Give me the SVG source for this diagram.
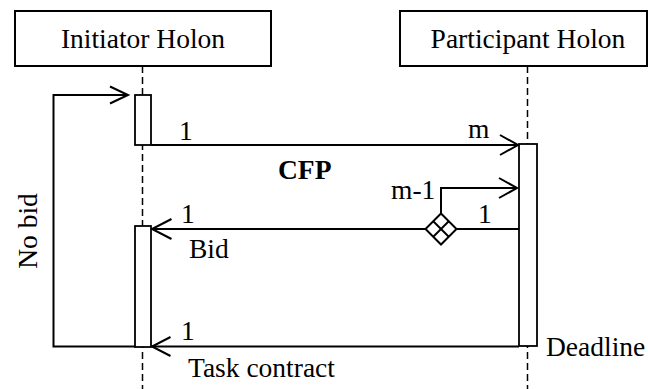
<svg xmlns="http://www.w3.org/2000/svg" width="648" height="389" viewBox="0 0 648 389">
<rect width="648" height="389" fill="#fff"/>
<g id="lifelines" stroke="#000" stroke-width="1.5" stroke-dasharray="7 4" fill="none">
  <line x1="142.5" y1="66" x2="142.5" y2="389"/>
  <line x1="527.5" y1="66" x2="527.5" y2="389"/>
</g>
<g id="initiator">
  <rect x="15" y="11" width="256" height="55" fill="#fff" stroke="#000" stroke-width="2"/>
  <text x="143" y="48" text-anchor="middle" font-family="Liberation Serif" font-size="27.5">Initiator Holon</text>
</g>
<g id="participant">
  <rect x="400" y="11" width="247" height="55" fill="#fff" stroke="#000" stroke-width="2"/>
  <text x="528" y="48" text-anchor="middle" font-family="Liberation Serif" font-size="27.5">Participant Holon</text>
</g>
<g id="connectors" stroke="#000" stroke-width="2" fill="none">
  <polyline points="135,346.5 53.5,346.5 53.5,95 127,95"/>
  <polyline points="110,86.5 128,95 110,103.5"/>
  <line x1="151" y1="145" x2="518" y2="145"/>
  <polyline points="500,135 518,145 500,155"/>
  <polyline points="441,213.5 441,188 517,188"/>
  <polyline points="499,178 517,188 499,198"/>
  <line x1="456" y1="229" x2="519" y2="229"/>
  <line x1="425" y1="229" x2="152" y2="229"/>
  <polyline points="171.5,219 152,229 171.5,239"/>
  <line x1="519" y1="346.5" x2="152" y2="346.5"/>
  <polyline points="170.5,337 152,346.5 170.5,356"/>
</g>
<g id="activations" fill="#fff" stroke="#000" stroke-width="1.8">
  <rect x="135" y="95" width="16" height="50"/>
  <rect x="135" y="226" width="16" height="121"/>
  <rect x="519" y="144" width="18" height="202"/>
</g>
<g id="decision" stroke="#000" stroke-width="2" fill="#fff">
  <polygon points="441,213.5 456.5,229 441,244.5 425.5,229"/>
  <line x1="433.25" y1="221.25" x2="448.75" y2="236.75"/>
  <line x1="448.75" y1="221.25" x2="433.25" y2="236.75"/>
</g>
<text x="179" y="140" font-family="Liberation Serif" font-size="27.5">1</text>
<text x="468" y="138" font-family="Liberation Serif" font-size="27.5">m</text>
<text x="278" y="179" font-family="Liberation Serif" font-size="27.5" font-weight="bold">CFP</text>
<text x="391" y="199" font-family="Liberation Serif" font-size="27.5">m-1</text>
<text x="478" y="223" font-family="Liberation Serif" font-size="27.5">1</text>
<text x="181" y="223" font-family="Liberation Serif" font-size="27.5">1</text>
<text x="189" y="258" font-family="Liberation Serif" font-size="27.5">Bid</text>
<text x="181" y="340" font-family="Liberation Serif" font-size="27.5">1</text>
<text x="188" y="377" font-family="Liberation Serif" font-size="27.5">Task contract</text>
<text x="546" y="356" font-family="Liberation Serif" font-size="27.5">Deadline</text>
<text transform="translate(37,231) rotate(-90)" text-anchor="middle" font-family="Liberation Serif" font-size="27.5">No bid</text>
</svg>
